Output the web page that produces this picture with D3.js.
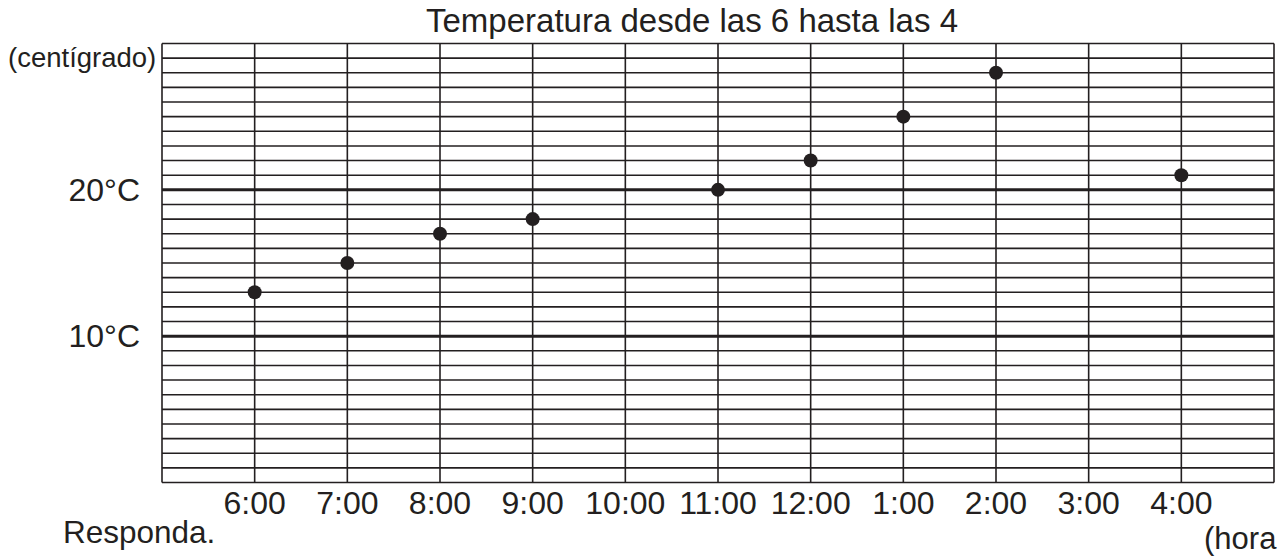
<!DOCTYPE html>
<html>
<head>
<meta charset="utf-8">
<script src="https://cdn.jsdelivr.net/npm/d3@7"></script>
<style>
  html, body { margin: 0; padding: 0; background: #fff; overflow: hidden; }
  svg { display: block; }
  text { font-family: "Liberation Sans", Arial, sans-serif; fill: #231f20; }
</style>
</head>
<body>
<script>
const title = "Temperatura desde las 6 hasta las 4";
const hours = ["6:00", "7:00", "8:00", "9:00", "10:00", "11:00", "12:00", "1:00", "2:00", "3:00", "4:00"];
const temps = [13, 15, 17, 18, null, 20, 22, 25, 28, null, 21];
const yLabelValues = [10, 20];
const yLabels = ["10°C", "20°C"];
const yUnit = "(centígrado)";
const xUnit = "(hora";
const footer = "Responda.";

const W = 1282, H = 558;
const plotLeft = 162, plotRight = 1274, plotTop = 43.5, plotBottom = 482.5;
const ink = "#231f20";

const svg = d3.select("body").append("svg").attr("width", W).attr("height", H);

const x = d3.scalePoint().domain(hours).range([plotLeft, plotRight]).padding(1);
const y = d3.scaleLinear().domain([0, 30]).range([plotBottom, plotTop]);

const grid = svg.append("g");
// horizontal lines every degree
grid.selectAll("line.h").data(d3.range(0, 31)).join("line")
  .attr("x1", plotLeft).attr("x2", plotRight)
  .attr("y1", d => y(d)).attr("y2", d => y(d))
  .attr("stroke", ink)
  .attr("stroke-width", d => yLabelValues.includes(d) ? 3 : 1.6);
// vertical lines at each hour
grid.selectAll("line.v").data(hours).join("line")
  .attr("x1", d => x(d)).attr("x2", d => x(d))
  .attr("y1", y(30)).attr("y2", y(0))
  .attr("stroke", ink).attr("stroke-width", 1.6);
// borders
grid.append("line").attr("x1", plotLeft).attr("x2", plotLeft).attr("y1", y(30)).attr("y2", y(0)).attr("stroke", ink).attr("stroke-width", 1.6);
grid.append("line").attr("x1", plotRight).attr("x2", plotRight).attr("y1", y(30)).attr("y2", y(0)).attr("stroke", ink).attr("stroke-width", 1.6);

// points
const pts = hours.map((h, i) => ({ h, v: temps[i] })).filter(d => d.v !== null);
svg.append("g").selectAll("circle").data(pts).join("circle")
  .attr("cx", d => x(d.h)).attr("cy", d => y(d.v)).attr("r", 7)
  .attr("fill", ink);

// x tick labels
svg.append("g").selectAll("text").data(hours).join("text")
  .attr("x", d => x(d)).attr("y", 514)
  .attr("text-anchor", "middle").attr("font-size", 32)
  .text(d => d);

// y labels
svg.append("g").selectAll("text").data(yLabelValues).join("text")
  .attr("x", 140).attr("y", d => y(d) + 11)
  .attr("text-anchor", "end").attr("font-size", 32)
  .text((d, i) => yLabels[i]);

svg.append("text").attr("x", 8).attr("y", 67).attr("font-size", 27.5).text(yUnit);
svg.append("text").attr("x", 692).attr("y", 32).attr("text-anchor", "middle").attr("font-size", 33).text(title);
svg.append("text").attr("x", 63).attr("y", 543).attr("font-size", 31.5).text(footer);
svg.append("text").attr("x", 1204).attr("y", 549).attr("font-size", 31).text(xUnit);
</script>
</body>
</html>
